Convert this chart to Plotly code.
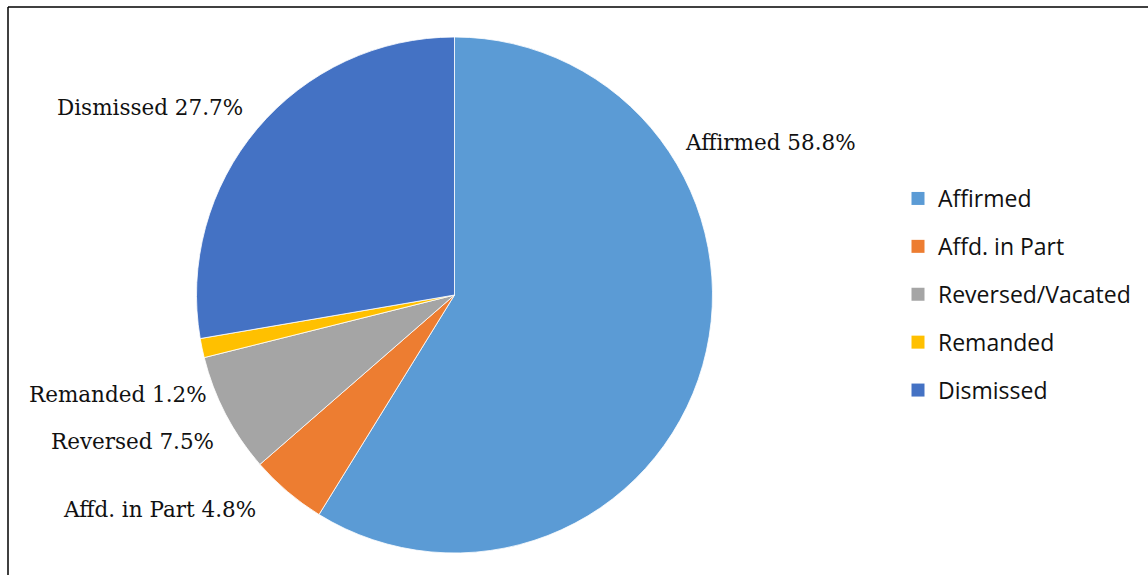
import plotly.graph_objects as go

W, H = 1148, 575

# ---- data ----
categories = ["Affirmed", "Affd. in Part", "Reversed/Vacated", "Remanded", "Dismissed"]
label_names = ["Affirmed", "Affd. in Part", "Reversed", "Remanded", "Dismissed"]
percent_values = [58.8, 4.8, 7.5, 1.2, 27.7]
colors = ["#5B9BD5", "#ED7D31", "#A5A5A5", "#FFC000", "#4472C4"]

# label anchor positions in pixels (layout, not data)
label_pos = [(770, 143), (159, 509), (132, 441), (118, 394), (150, 107)]

cx, cy, r = 454.5, 295, 258

def px_x(x):
    return x / W

def px_y(y):
    return 1 - y / H

fig = go.Figure()
fig.add_trace(go.Pie(
    labels=categories,
    values=percent_values,
    marker=dict(colors=colors, line=dict(color="white", width=0.8)),
    sort=False,
    direction="clockwise",
    rotation=0,
    textinfo="none",
    hoverinfo="label+percent",
    showlegend=False,
    domain=dict(x=[px_x(cx - r), px_x(cx + r)], y=[px_y(cy + r), px_y(cy - r)]),
))

# legend via dummy traces for Excel-like spacing
for name, col in zip(categories, colors):
    fig.add_trace(go.Scatter(
        x=[None], y=[None], mode="markers", name=name,
        marker=dict(symbol="square", size=13, color=col),
        legendgroup=name, showlegend=True,
    ))

annotations = []
for nm, v, (x, y) in zip(label_names, percent_values, label_pos):
    annotations.append(dict(
        x=px_x(x), y=px_y(y), xref="paper", yref="paper",
        text=f"{nm} {v:.1f}%", showarrow=False,
        xanchor="center", yanchor="middle",
        font=dict(family="DejaVu Serif", size=21.5, color="#111111"),
    ))

shapes = [
    dict(type="line", xref="paper", yref="paper",
         x0=px_x(8), x1=1.01, y0=px_y(7), y1=px_y(7),
         line=dict(color="black", width=1.5)),
    dict(type="line", xref="paper", yref="paper",
         x0=px_x(8), x1=px_x(8), y0=px_y(7), y1=-0.01,
         line=dict(color="black", width=1.5)),
]

fig.update_layout(
    width=W, height=H,
    margin=dict(l=0, r=0, t=0, b=0),
    paper_bgcolor="white", plot_bgcolor="white",
    xaxis=dict(visible=False), yaxis=dict(visible=False),
    showlegend=True,
    legend=dict(
        x=px_x(898), y=px_y(177), xanchor="left", yanchor="top",
        font=dict(family="Open Sans", size=23, color="#111111"),
        tracegroupgap=15, traceorder="grouped",
        itemwidth=30, bgcolor="rgba(0,0,0,0)",
    ),
    annotations=annotations,
    shapes=shapes,
)

fig.write_html("out.html", config={"displayModeBar": False},
               post_script="document.body.style.margin='0';")
